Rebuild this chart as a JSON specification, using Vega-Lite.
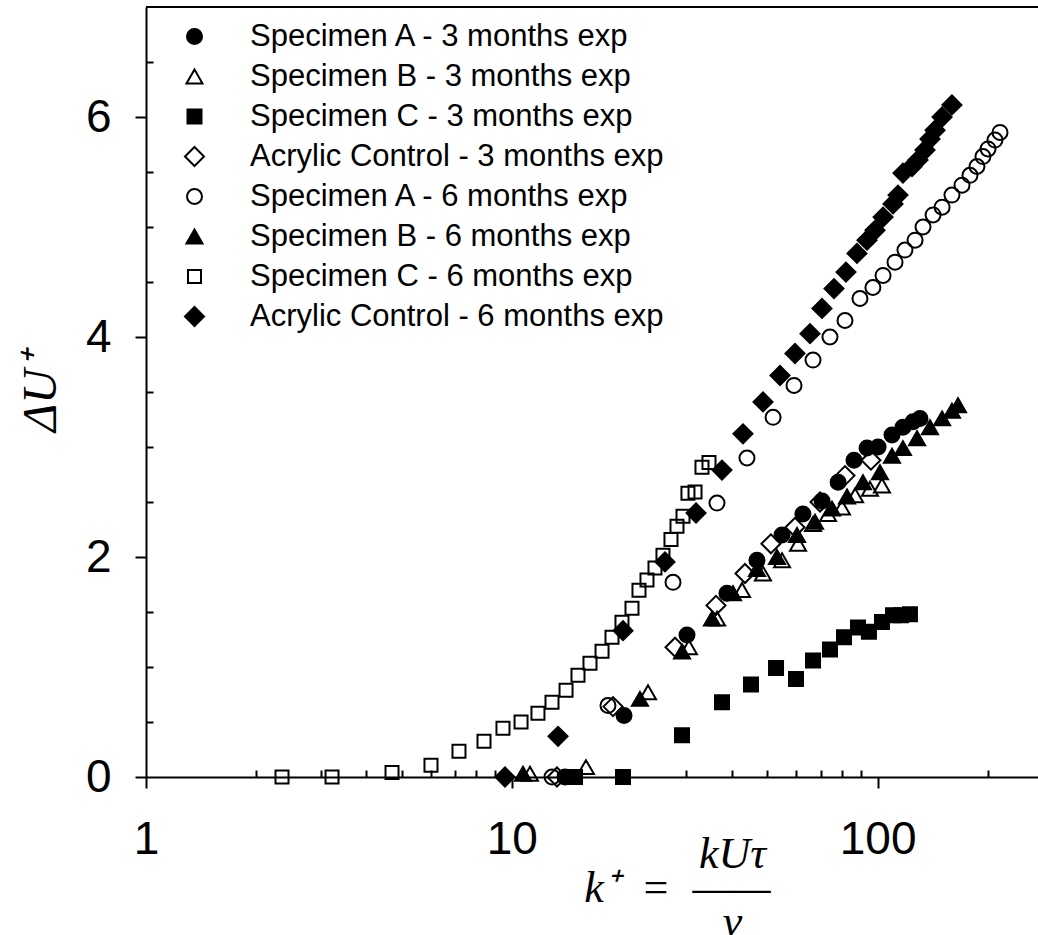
{
  "$schema": "https://vega.github.io/schema/vega-lite/v6.json",
  "width": 892,
  "height": 770,
  "autosize": "none",
  "padding": {"left": 146, "top": 7, "right": 0, "bottom": 158},
  "background": "white",
  "config": {"view": {"stroke": null}, "font": "Liberation Sans"},
  "layer": [
    {
      "data": {
        "values": [
          {"series": "Specimen A - 3 months exp", "k": 13.98, "dU": 0},
          {"series": "Specimen A - 3 months exp", "k": 20.27, "dU": 0.56},
          {"series": "Specimen A - 3 months exp", "k": 30.13, "dU": 1.29},
          {"series": "Specimen A - 3 months exp", "k": 38.75, "dU": 1.67},
          {"series": "Specimen A - 3 months exp", "k": 46.8, "dU": 1.97},
          {"series": "Specimen A - 3 months exp", "k": 54.8, "dU": 2.2},
          {"series": "Specimen A - 3 months exp", "k": 62.5, "dU": 2.39},
          {"series": "Specimen A - 3 months exp", "k": 70.5, "dU": 2.51},
          {"series": "Specimen A - 3 months exp", "k": 78.0, "dU": 2.68},
          {"series": "Specimen A - 3 months exp", "k": 86.2, "dU": 2.88},
          {"series": "Specimen A - 3 months exp", "k": 93.6, "dU": 2.99},
          {"series": "Specimen A - 3 months exp", "k": 100.3, "dU": 3.0},
          {"series": "Specimen A - 3 months exp", "k": 109.5, "dU": 3.11},
          {"series": "Specimen A - 3 months exp", "k": 117.3, "dU": 3.18},
          {"series": "Specimen A - 3 months exp", "k": 125.0, "dU": 3.23},
          {"series": "Specimen A - 3 months exp", "k": 130.6, "dU": 3.26},

          {"series": "Specimen B - 3 months exp", "k": 11.21, "dU": 0.03},
          {"series": "Specimen B - 3 months exp", "k": 15.95, "dU": 0.09},
          {"series": "Specimen B - 3 months exp", "k": 23.57, "dU": 0.77},
          {"series": "Specimen B - 3 months exp", "k": 30.5, "dU": 1.18},
          {"series": "Specimen B - 3 months exp", "k": 36.4, "dU": 1.44},
          {"series": "Specimen B - 3 months exp", "k": 42.6, "dU": 1.7},
          {"series": "Specimen B - 3 months exp", "k": 48.6, "dU": 1.85},
          {"series": "Specimen B - 3 months exp", "k": 54.8, "dU": 1.97},
          {"series": "Specimen B - 3 months exp", "k": 60.6, "dU": 2.12},
          {"series": "Specimen B - 3 months exp", "k": 66.6, "dU": 2.3},
          {"series": "Specimen B - 3 months exp", "k": 73.2, "dU": 2.39},
          {"series": "Specimen B - 3 months exp", "k": 79.9, "dU": 2.45},
          {"series": "Specimen B - 3 months exp", "k": 86.8, "dU": 2.56},
          {"series": "Specimen B - 3 months exp", "k": 95.3, "dU": 2.62},
          {"series": "Specimen B - 3 months exp", "k": 102.8, "dU": 2.65},

          {"series": "Specimen C - 3 months exp", "k": 14.89, "dU": 0},
          {"series": "Specimen C - 3 months exp", "k": 20.14, "dU": 0},
          {"series": "Specimen C - 3 months exp", "k": 29.2, "dU": 0.38},
          {"series": "Specimen C - 3 months exp", "k": 37.55, "dU": 0.68},
          {"series": "Specimen C - 3 months exp", "k": 45.07, "dU": 0.84},
          {"series": "Specimen C - 3 months exp", "k": 52.77, "dU": 0.99},
          {"series": "Specimen C - 3 months exp", "k": 59.84, "dU": 0.89},
          {"series": "Specimen C - 3 months exp", "k": 66.6, "dU": 1.06},
          {"series": "Specimen C - 3 months exp", "k": 74.1, "dU": 1.16},
          {"series": "Specimen C - 3 months exp", "k": 80.94, "dU": 1.27},
          {"series": "Specimen C - 3 months exp", "k": 88.4, "dU": 1.36},
          {"series": "Specimen C - 3 months exp", "k": 94.7, "dU": 1.32},
          {"series": "Specimen C - 3 months exp", "k": 102.8, "dU": 1.41},
          {"series": "Specimen C - 3 months exp", "k": 110.2, "dU": 1.47},
          {"series": "Specimen C - 3 months exp", "k": 115.9, "dU": 1.47},
          {"series": "Specimen C - 3 months exp", "k": 122.6, "dU": 1.48},

          {"series": "Acrylic Control - 3 months exp", "k": 13.29, "dU": 0},
          {"series": "Acrylic Control - 3 months exp", "k": 18.91, "dU": 0.64},
          {"series": "Acrylic Control - 3 months exp", "k": 27.94, "dU": 1.18},
          {"series": "Acrylic Control - 3 months exp", "k": 36.16, "dU": 1.56},
          {"series": "Acrylic Control - 3 months exp", "k": 43.4, "dU": 1.85},
          {"series": "Acrylic Control - 3 months exp", "k": 51.1, "dU": 2.12},
          {"series": "Acrylic Control - 3 months exp", "k": 59.46, "dU": 2.27},
          {"series": "Acrylic Control - 3 months exp", "k": 69.6, "dU": 2.5},
          {"series": "Acrylic Control - 3 months exp", "k": 81.45, "dU": 2.74},
          {"series": "Acrylic Control - 3 months exp", "k": 95.9, "dU": 2.88},

          {"series": "Specimen A - 6 months exp", "k": 12.88, "dU": 0},
          {"series": "Specimen A - 6 months exp", "k": 18.32, "dU": 0.65},
          {"series": "Specimen A - 6 months exp", "k": 27.59, "dU": 1.77},
          {"series": "Specimen A - 6 months exp", "k": 36.39, "dU": 2.49},
          {"series": "Specimen A - 6 months exp", "k": 43.95, "dU": 2.9},
          {"series": "Specimen A - 6 months exp", "k": 51.8, "dU": 3.27},
          {"series": "Specimen A - 6 months exp", "k": 59.09, "dU": 3.56},
          {"series": "Specimen A - 6 months exp", "k": 66.6, "dU": 3.79},
          {"series": "Specimen A - 6 months exp", "k": 74.1, "dU": 4.0},
          {"series": "Specimen A - 6 months exp", "k": 81.45, "dU": 4.15},
          {"series": "Specimen A - 6 months exp", "k": 89.5, "dU": 4.35},
          {"series": "Specimen A - 6 months exp", "k": 97.1, "dU": 4.45},
          {"series": "Specimen A - 6 months exp", "k": 103.5, "dU": 4.56},
          {"series": "Specimen A - 6 months exp", "k": 111.6, "dU": 4.68},
          {"series": "Specimen A - 6 months exp", "k": 118.8, "dU": 4.79},
          {"series": "Specimen A - 6 months exp", "k": 126.6, "dU": 4.88},
          {"series": "Specimen A - 6 months exp", "k": 133.1, "dU": 5.0},
          {"series": "Specimen A - 6 months exp", "k": 141.8, "dU": 5.11},
          {"series": "Specimen A - 6 months exp", "k": 150.1, "dU": 5.18},
          {"series": "Specimen A - 6 months exp", "k": 159.7, "dU": 5.29},
          {"series": "Specimen A - 6 months exp", "k": 170.1, "dU": 5.38},
          {"series": "Specimen A - 6 months exp", "k": 178.9, "dU": 5.47},
          {"series": "Specimen A - 6 months exp", "k": 186.9, "dU": 5.55},
          {"series": "Specimen A - 6 months exp", "k": 194.1, "dU": 5.64},
          {"series": "Specimen A - 6 months exp", "k": 200.4, "dU": 5.71},
          {"series": "Specimen A - 6 months exp", "k": 209.4, "dU": 5.79},
          {"series": "Specimen A - 6 months exp", "k": 216.1, "dU": 5.86},

          {"series": "Specimen B - 6 months exp", "k": 10.73, "dU": 0.03},
          {"series": "Specimen B - 6 months exp", "k": 22.41, "dU": 0.71},
          {"series": "Specimen B - 6 months exp", "k": 29.2, "dU": 1.14},
          {"series": "Specimen B - 6 months exp", "k": 35.26, "dU": 1.44},
          {"series": "Specimen B - 6 months exp", "k": 40.24, "dU": 1.67},
          {"series": "Specimen B - 6 months exp", "k": 46.8, "dU": 1.89},
          {"series": "Specimen B - 6 months exp", "k": 53.09, "dU": 2.0},
          {"series": "Specimen B - 6 months exp", "k": 60.22, "dU": 2.2},
          {"series": "Specimen B - 6 months exp", "k": 67.45, "dU": 2.32},
          {"series": "Specimen B - 6 months exp", "k": 75.06, "dU": 2.44},
          {"series": "Specimen B - 6 months exp", "k": 82.5, "dU": 2.55},
          {"series": "Specimen B - 6 months exp", "k": 91.22, "dU": 2.68},
          {"series": "Specimen B - 6 months exp", "k": 101.5, "dU": 2.77},
          {"series": "Specimen B - 6 months exp", "k": 109.5, "dU": 2.92},
          {"series": "Specimen B - 6 months exp", "k": 117.3, "dU": 2.99},
          {"series": "Specimen B - 6 months exp", "k": 128.2, "dU": 3.08},
          {"series": "Specimen B - 6 months exp", "k": 139.1, "dU": 3.18},
          {"series": "Specimen B - 6 months exp", "k": 150.1, "dU": 3.26},
          {"series": "Specimen B - 6 months exp", "k": 159.7, "dU": 3.33},
          {"series": "Specimen B - 6 months exp", "k": 165.9, "dU": 3.38},

          {"series": "Specimen C - 6 months exp", "k": 2.354, "dU": 0},
          {"series": "Specimen C - 6 months exp", "k": 3.225, "dU": 0},
          {"series": "Specimen C - 6 months exp", "k": 4.705, "dU": 0.04},
          {"series": "Specimen C - 6 months exp", "k": 6.013, "dU": 0.106},
          {"series": "Specimen C - 6 months exp", "k": 7.172, "dU": 0.234},
          {"series": "Specimen C - 6 months exp", "k": 8.395, "dU": 0.325},
          {"series": "Specimen C - 6 months exp", "k": 9.46, "dU": 0.443},
          {"series": "Specimen C - 6 months exp", "k": 10.6, "dU": 0.5},
          {"series": "Specimen C - 6 months exp", "k": 11.79, "dU": 0.579},
          {"series": "Specimen C - 6 months exp", "k": 12.88, "dU": 0.679},
          {"series": "Specimen C - 6 months exp", "k": 14.07, "dU": 0.788},
          {"series": "Specimen C - 6 months exp", "k": 15.17, "dU": 0.925},
          {"series": "Specimen C - 6 months exp", "k": 16.36, "dU": 1.034},
          {"series": "Specimen C - 6 months exp", "k": 17.65, "dU": 1.143},
          {"series": "Specimen C - 6 months exp", "k": 18.79, "dU": 1.27},
          {"series": "Specimen C - 6 months exp", "k": 20.01, "dU": 1.406},
          {"series": "Specimen C - 6 months exp", "k": 21.31, "dU": 1.534},
          {"series": "Specimen C - 6 months exp", "k": 22.27, "dU": 1.697},
          {"series": "Specimen C - 6 months exp", "k": 23.42, "dU": 1.79},
          {"series": "Specimen C - 6 months exp", "k": 24.63, "dU": 1.9},
          {"series": "Specimen C - 6 months exp", "k": 25.9, "dU": 2.015},
          {"series": "Specimen C - 6 months exp", "k": 27.24, "dU": 2.16},
          {"series": "Specimen C - 6 months exp", "k": 28.29, "dU": 2.28},
          {"series": "Specimen C - 6 months exp", "k": 29.38, "dU": 2.37},
          {"series": "Specimen C - 6 months exp", "k": 30.31, "dU": 2.58},
          {"series": "Specimen C - 6 months exp", "k": 31.69, "dU": 2.59},
          {"series": "Specimen C - 6 months exp", "k": 33.11, "dU": 2.815},
          {"series": "Specimen C - 6 months exp", "k": 34.6, "dU": 2.86},

          {"series": "Acrylic Control - 6 months exp", "k": 9.58, "dU": 0},
          {"series": "Acrylic Control - 6 months exp", "k": 13.38, "dU": 0.37},
          {"series": "Acrylic Control - 6 months exp", "k": 20.14, "dU": 1.33},
          {"series": "Acrylic Control - 6 months exp", "k": 26.23, "dU": 1.955},
          {"series": "Acrylic Control - 6 months exp", "k": 31.89, "dU": 2.4},
          {"series": "Acrylic Control - 6 months exp", "k": 37.55, "dU": 2.79},
          {"series": "Acrylic Control - 6 months exp", "k": 42.86, "dU": 3.12},
          {"series": "Acrylic Control - 6 months exp", "k": 48.62, "dU": 3.41},
          {"series": "Acrylic Control - 6 months exp", "k": 54.11, "dU": 3.65},
          {"series": "Acrylic Control - 6 months exp", "k": 59.46, "dU": 3.85},
          {"series": "Acrylic Control - 6 months exp", "k": 65.35, "dU": 4.03},
          {"series": "Acrylic Control - 6 months exp", "k": 70.47, "dU": 4.26},
          {"series": "Acrylic Control - 6 months exp", "k": 76.0, "dU": 4.44},
          {"series": "Acrylic Control - 6 months exp", "k": 81.95, "dU": 4.59},
          {"series": "Acrylic Control - 6 months exp", "k": 87.83, "dU": 4.76},
          {"series": "Acrylic Control - 6 months exp", "k": 93.55, "dU": 4.88},
          {"series": "Acrylic Control - 6 months exp", "k": 98.38, "dU": 4.97},
          {"series": "Acrylic Control - 6 months exp", "k": 103.5, "dU": 5.09},
          {"series": "Acrylic Control - 6 months exp", "k": 110.2, "dU": 5.21},
          {"series": "Acrylic Control - 6 months exp", "k": 113.7, "dU": 5.29},
          {"series": "Acrylic Control - 6 months exp", "k": 117.3, "dU": 5.49},
          {"series": "Acrylic Control - 6 months exp", "k": 124.2, "dU": 5.55},
          {"series": "Acrylic Control - 6 months exp", "k": 129.0, "dU": 5.61},
          {"series": "Acrylic Control - 6 months exp", "k": 134.8, "dU": 5.7},
          {"series": "Acrylic Control - 6 months exp", "k": 139.1, "dU": 5.8},
          {"series": "Acrylic Control - 6 months exp", "k": 143.6, "dU": 5.88},
          {"series": "Acrylic Control - 6 months exp", "k": 150.1, "dU": 6.0},
          {"series": "Acrylic Control - 6 months exp", "k": 159.7, "dU": 6.11}
        ]
      },
      "mark": {"type": "point", "filled": true, "stroke": "black", "strokeWidth": 2, "opacity": 1},
      "encoding": {
        "x": {
          "field": "k",
          "type": "quantitative",
          "scale": {"type": "log", "domain": [1, 274.5], "nice": false},
          "axis": {
            "title": ["\u200b\u2003\u2003\u2002kU\u03c4", "k\u207a\u2002=\u2002\u2014\u2014", "\u200b\u2003\u2003\u2002\u03bd"],
            "titleFont": "Liberation Serif",
            "titleFontStyle": "italic",
            "titleFontWeight": "normal",
            "titleFontSize": 44,
            "titleColor": "black",
            "titleLineHeight": 34,
            "titleX": 531,
            "titleY": 90,
            "titleBaseline": "alphabetic",
            "titleAlign": "center",
            "titleAnchor": null,
            "values": [1, 2, 3, 4, 5, 6, 7, 8, 9, 10, 20, 30, 40, 50, 60, 70, 80, 90, 100, 200],
            "labelExpr": "indexof([1, 10, 100], datum.value) >= 0 ? format(datum.value, 'd') : ''",
            "labelFontSize": 46,
            "labelColor": "black",
            "labelPadding": 29,
            "labelFlush": false,
            "labelOverlap": false,
            "tickSize": {"condition": {"test": "indexof([1, 10, 100], datum.value) >= 0", "value": 11}, "value": -7},
            "tickWidth": 2,
            "tickColor": "black",
            "domainColor": "black",
            "domainWidth": 2,
            "grid": false
          }
        },
        "y": {
          "field": "dU",
          "type": "quantitative",
          "scale": {"domain": [0, 7], "nice": false},
          "axis": {
            "title": "\u0394U\u207a",
            "titleFont": "Liberation Serif",
            "titleFontStyle": "italic",
            "titleFontWeight": "normal",
            "titleFontSize": 48,
            "titleColor": "black",
            "titlePadding": 20,
            "values": [0, 0.5, 1, 1.5, 2, 2.5, 3, 3.5, 4, 4.5, 5, 5.5, 6, 6.5],
            "labelExpr": "datum.value % 2 == 0 ? format(datum.value, 'd') : ''",
            "labelFontSize": 46,
            "labelColor": "black",
            "labelPadding": 24,
            "labelOverlap": false,
            "labelFlush": false,
            "tickSize": {"condition": {"test": "datum.value % 2 == 0", "value": 11}, "value": -7},
            "tickWidth": 2,
            "tickColor": "black",
            "domainColor": "black",
            "domainWidth": 2,
            "grid": false
          }
        },
        "shape": {
          "field": "series",
          "type": "nominal",
          "scale": {
            "domain": ["Specimen A - 3 months exp", "Specimen B - 3 months exp", "Specimen C - 3 months exp", "Acrylic Control - 3 months exp", "Specimen A - 6 months exp", "Specimen B - 6 months exp", "Specimen C - 6 months exp", "Acrylic Control - 6 months exp"],
            "range": ["circle", "triangle-up", "square", "diamond", "circle", "triangle-up", "square", "diamond"]
          },
          "legend": {
            "title": null,
            "orient": "none",
            "legendX": 33,
            "legendY": 14,
            "padding": 0,
            "labelFontSize": 31,
            "labelFont": "Liberation Sans",
            "labelColor": "black",
            "labelOffset": 40,
            "labelLimit": 0,
            "rowPadding": 8,
            "symbolStrokeColor": "black",
            "symbolStrokeWidth": 2,
            "symbolOpacity": 1
          }
        },
        "fill": {
          "field": "series",
          "type": "nominal",
          "scale": {
            "domain": ["Specimen A - 3 months exp", "Specimen B - 3 months exp", "Specimen C - 3 months exp", "Acrylic Control - 3 months exp", "Specimen A - 6 months exp", "Specimen B - 6 months exp", "Specimen C - 6 months exp", "Acrylic Control - 6 months exp"],
            "range": ["black", "transparent", "black", "transparent", "transparent", "black", "transparent", "black"]
          }
        },
        "size": {
          "field": "series",
          "type": "nominal",
          "scale": {
            "type": "ordinal",
            "domain": ["Specimen A - 3 months exp", "Specimen B - 3 months exp", "Specimen C - 3 months exp", "Acrylic Control - 3 months exp", "Specimen A - 6 months exp", "Specimen B - 6 months exp", "Specimen C - 6 months exp", "Acrylic Control - 6 months exp"],
            "range": [225, 256, 196, 361, 225, 256, 169, 361]
          }
        }
      }
    },
    {
      "data": {"values": [{}]},
      "mark": {"type": "rule", "stroke": "black", "strokeWidth": 2},
      "encoding": {"y": {"datum": 7}}
    }
  ]
}
